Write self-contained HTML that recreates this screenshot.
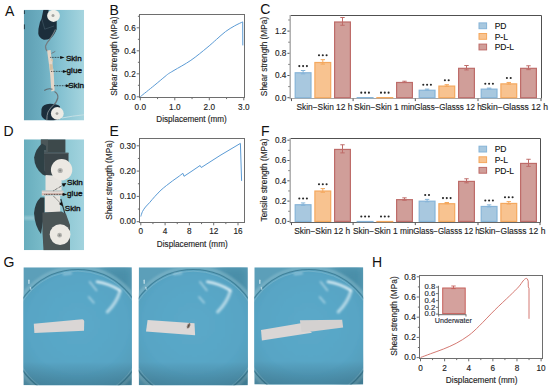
<!DOCTYPE html>
<html><head><meta charset="utf-8"><style>
html,body{margin:0;padding:0;background:#fff;}
svg{display:block;}
text{font-family:"Liberation Sans", sans-serif;}
</style></head><body>
<svg width="550" height="391" viewBox="0 0 550 391">
<rect width="550" height="391" fill="#fff"/>
<defs>
<linearGradient id="gA" x1="0" y1="0" x2="1" y2="0"><stop offset="0" stop-color="#5e9fb3"/><stop offset="0.3" stop-color="#6cadc0"/><stop offset="0.6" stop-color="#84c1d1"/><stop offset="1" stop-color="#a6d5df"/></linearGradient>
<linearGradient id="gD" x1="0" y1="0" x2="1" y2="0"><stop offset="0" stop-color="#68adbd"/><stop offset="0.4" stop-color="#7ebfcc"/><stop offset="1" stop-color="#a2d3de"/></linearGradient>
<linearGradient id="gGv" x1="0" y1="0" x2="0" y2="1"><stop offset="0" stop-color="#000" stop-opacity="0"/><stop offset="0.8" stop-color="#000" stop-opacity="0"/><stop offset="1" stop-color="#0a2a38" stop-opacity="0.22"/></linearGradient>
<radialGradient id="gDish" cx="0.5" cy="0.42" r="0.62"><stop offset="0" stop-color="#5ba9c9"/><stop offset="0.6" stop-color="#58a5c5"/><stop offset="1" stop-color="#5398b3"/></radialGradient>
<filter id="bl" x="-20%" y="-20%" width="140%" height="140%"><feGaussianBlur stdDeviation="0.45"/></filter>
<filter id="bl1" x="-20%" y="-20%" width="140%" height="140%"><feGaussianBlur stdDeviation="0.8"/></filter>
<filter id="bl2" x="-20%" y="-20%" width="140%" height="140%"><feGaussianBlur stdDeviation="1.5"/></filter>
<filter id="bl4" x="-30%" y="-30%" width="160%" height="160%"><feGaussianBlur stdDeviation="4"/></filter>
<clipPath id="cA"><rect x="23.8" y="9.7" width="60.3" height="110.8"/></clipPath>
<clipPath id="cD"><rect x="23.9" y="139.3" width="60.2" height="110.9"/></clipPath>
<clipPath id="cG1"><rect x="23.4" y="267.3" width="108.4" height="118"/></clipPath>
<clipPath id="cG2"><rect x="138.7" y="267.3" width="109.1" height="118"/></clipPath>
<clipPath id="cG3"><rect x="254.3" y="267.3" width="108.9" height="117.2"/></clipPath>
</defs>
<g clip-path="url(#cA)">
<rect x="23.8" y="9.7" width="60.3" height="110.8" fill="url(#gA)"/>
<g filter="url(#bl)">
<rect x="23.6" y="10.4" width="1.3" height="3.6" fill="#243a48"/><rect x="23.6" y="24.4" width="1.3" height="4.8" fill="#243a48"/>
<path d="M43.4,9.7 L48.6,9.7 L48.6,18 L56.7,20 L56.7,29.2 Q54,36 50.3,38.4 Q47,40 43.8,39.8 Q39,38 38.3,33.8 Q38,29 39.2,25.5 Q40,21 41.5,19 Z" fill="#1b2d3a"/>
<path d="M42,19.5 L44.7,29.2 L54,26" fill="none" stroke="#3e5260" stroke-width="0.8"/>
<ellipse cx="53.5" cy="15.8" rx="6.4" ry="6.1" fill="#efefe9"/><circle cx="53.0" cy="15.5" r="1.5" fill="#a4a4a0"/>
<path d="M55.5,29.5 Q53,35 50,39 Q46.5,43 45.5,46 Q45.3,49.5 47.8,51.5" fill="none" stroke="#737d82" stroke-width="1.2"/>
<path d="M51.5,53.4 L55.3,51.4" stroke="#6f7a80" stroke-width="1"/>
<path d="M47.1,50.4 L50.6,50 L51.5,58 L52.6,62 L52.4,66 L53.6,70 L54.6,90.6 L51.4,91.4 L50.2,75 L49.2,66 Z" fill="#e5d6c8"/><path d="M50.6,60 L52.8,58.5 L53,62 Z" fill="#d9c6aa"/>
<path d="M49.5,64 L52.6,64.5 L53.0,69.5 L50.0,70.2 Z" fill="#d3bfa2"/>
<path d="M52.5,89.3 Q48,87.8 44.3,90.5" fill="none" stroke="#5e6a70" stroke-width="1.1"/>
<path d="M54.5,91.5 Q58.5,94 57.8,98 Q56.5,103 52,107 Q48.5,110 47.5,115" fill="none" stroke="#6c767b" stroke-width="1.2"/>
<path d="M41.5,109 Q42.5,104 50,103.8 Q57.5,103.8 60,106.5 L60.4,118.5 Q57,120.6 50,120.6 Q42.5,120.4 41.3,115 Z" fill="#1b2d3a"/>
<path d="M54.5,104 Q50,108 48,112 Q46.8,115 46.8,120.5" fill="none" stroke="#8a9498" stroke-width="0.9"/>
<ellipse cx="57.3" cy="113.4" rx="6.4" ry="6.3" fill="#ecebe5"/><circle cx="57.0" cy="113.6" r="1.4" fill="#a0a09c"/>
<path d="M62,118 Q72,116 84,114.8" fill="none" stroke="#c4dfe4" stroke-width="1"/>
</g></g>
<g stroke="#111" stroke-width="0.8" stroke-dasharray="0.8,0.8" fill="none"><line x1="50.3" y1="57.4" x2="61.2" y2="57.4"/><line x1="51.2" y1="71.4" x2="63.8" y2="71.4"/><line x1="54.0" y1="85.7" x2="66.8" y2="85.7"/></g>
<g fill="#111"><path d="M60.2,55.9 L64.6,57.4 L60.2,58.9 Z"/><path d="M62.9,69.9 L67.3,71.4 L62.9,72.9 Z"/><path d="M65.8,84.2 L70.2,85.7 L65.8,87.2 Z"/></g>
<g font-size="8.1" fill="#141414" stroke="#141414" stroke-width="0.38"><text x="65.9" y="60.7">Skin</text><text x="66.6" y="73.4">glue</text><text x="68.2" y="87.9">Skin</text></g>
<g clip-path="url(#cD)">
<rect x="23.9" y="139.3" width="60.2" height="110.9" fill="url(#gD)"/>
<rect x="23.9" y="216" width="16" height="4" fill="#a4d0da" opacity="0.6" filter="url(#bl1)"/>
<g filter="url(#bl)">
<path d="M40.9,139.3 L65.4,139.3 L65.4,152.8 L40.9,152.8 Z" fill="#3e484c"/>
<path d="M40.9,139.3 L48,139.3 L48,152.8 L40.9,152.8 Z" fill="#4b5659"/>
<path d="M42,143.5 Q35.5,149 34.1,157.5 Q34.5,168 42.5,174.5 L46,176 L46,146 Z" fill="#2f3f45"/>
<path d="M44,150 L46.5,150 L46.5,172 L44.5,171 Z" fill="#4d5d62"/>
<path d="M44,152.8 L68.5,152.8 L68.5,172 L60,175.8 L45.5,175.8 Z" fill="#3a4448"/>
<line x1="44" y1="153.3" x2="68.5" y2="153.3" stroke="#5a6568" stroke-width="0.8"/>
<path d="M45.5,175 L58,176 L61.6,181 L61.6,190.4 L45.5,190.4 Z" fill="#e6e4df"/>
<circle cx="61.6" cy="169.8" r="10.7" fill="#ece9e3"/><circle cx="60.2" cy="170.5" r="2.6" fill="#b4b4b0"/><circle cx="60.2" cy="170.5" r="1.1" fill="#8a8a86"/>
<rect x="41.8" y="190.6" width="21.6" height="5.0" fill="#e0dad5"/>
<line x1="41.8" y1="194.0" x2="63.4" y2="194.0" stroke="#c8988a" stroke-width="0.9"/>
<line x1="41.8" y1="191.2" x2="63.4" y2="191.2" stroke="#b4b0ac" stroke-width="0.5"/>
<path d="M44.7,195.8 L60.2,195.8 L60.2,212.2 L44.7,212.2 Z" fill="#e6e4df"/>
<path d="M40.5,197.5 Q34.8,203 34,213 Q34.8,226 41,234 L44.5,212 L44.5,197.5 Z" fill="#2d3d43"/>
<path d="M60.8,199 L65.4,215.3" stroke="#2f3a40" stroke-width="1.2"/>
<path d="M42.4,212.5 L61.5,211.5 L66,214 L70,225 L70,250.5 L43.5,250.5 Q42,232 42.4,212.5 Z" fill="#4b5457"/>
<circle cx="60.1" cy="234.6" r="10.4" fill="#ece9e3"/><circle cx="59.6" cy="235.2" r="2.4" fill="#b2b2ae"/><circle cx="59.6" cy="235.2" r="1.0" fill="#888884"/>
</g></g>
<g stroke="#111" stroke-width="0.8" stroke-dasharray="0.8,0.8" fill="none"><line x1="53.5" y1="190.7" x2="63.5" y2="184.8"/><line x1="44.5" y1="194.4" x2="63.0" y2="194.4"/><line x1="53.7" y1="196.3" x2="60.6" y2="203.3"/></g>
<g fill="#111"><path d="M61.6,183.6 L66.3,182.9 L63.9,187.0 Z"/><path d="M62.6,192.8 L67.2,194.4 L62.6,196.0 Z"/><path d="M59.0,204.0 L61.7,201.8 L63.0,206.4 Z"/></g>
<g font-size="8.1" fill="#141414" stroke="#141414" stroke-width="0.38"><text x="67.0" y="185.0">Skin</text><text x="67.1" y="196.4">glue</text><text x="64.8" y="211.4">Skin</text></g>
<g clip-path="url(#cG1)">
<rect x="23.4" y="267.3" width="108.4" height="118" fill="#5c9fb9"/>
<path d="M99.28,267.3 L131.8,267.3 L131.8,302.7 Z" fill="#4a8ea8" filter="url(#bl4)"/>
<path d="M104.70000000000002,385.3 L131.8,385.3 L131.8,355.8 Z" fill="#3c7f98" filter="url(#bl4)"/>
<ellipse cx="77.8" cy="334.5" rx="66" ry="65" fill="url(#gDish)" filter="url(#bl1)"/>
<g filter="url(#bl1)" fill="none">
<ellipse cx="77.8" cy="334.5" rx="68" ry="67" stroke="#94c3d2" stroke-width="3.2" opacity="0.5"/>
</g>
<g filter="url(#bl)" fill="none">
<ellipse cx="77.8" cy="334.5" rx="66" ry="65" stroke="#3b7a92" stroke-width="1.1" opacity="0.85"/>
<ellipse cx="77.8" cy="334.5" rx="64.4" ry="63.4" stroke="#9ccbd8" stroke-width="0.8" opacity="0.45"/>
</g>
<g filter="url(#bl1)" fill="none" stroke="#eef8fb" stroke-linecap="round">
<path d="M97.0,281.8 Q109.4,283.8 120.0,290.3" stroke-width="2.6" opacity="0.85"/>
<path d="M120.0,291.3 Q116.4,303.3 107.4,311.8" stroke-width="3.2" opacity="0.6"/>
<path d="M89.6,281.8 L96.6,290.5" stroke-width="1.6" opacity="0.55"/>
<path d="M88.8,296.9 L93.8,302.8" stroke-width="1.6" opacity="0.55"/>
<path d="M63.4,274.3 L71.4,273.3" stroke-width="1.4" opacity="0.5"/>
</g>
<g filter="url(#bl)" fill="none" stroke="#e6f4f8" stroke-linecap="round">
<path d="M28.9,280.3 L28.9,283.3" stroke-width="1.4" opacity="0.7"/>
<path d="M30.4,287.3 L30.9,289.3" stroke-width="1.2" opacity="0.6"/>
</g>
<rect x="23.4" y="267.3" width="108.4" height="118" fill="url(#gGv)"/>
<path d="M33.8,323.8 L82.4,319.3 Q84.2,319.6 84.2,321.5 L84.0,330.8 L34.4,333.1 Z" fill="#dad6d5" filter="url(#bl)"/>
</g>
<g clip-path="url(#cG2)">
<rect x="138.7" y="267.3" width="109.1" height="118" fill="#5c9fb9"/>
<path d="M215.07,267.3 L247.79999999999998,267.3 L247.79999999999998,302.7 Z" fill="#4a8ea8" filter="url(#bl4)"/>
<path d="M220.52499999999998,385.3 L247.79999999999998,385.3 L247.79999999999998,355.8 Z" fill="#3c7f98" filter="url(#bl4)"/>
<ellipse cx="193.3" cy="334.5" rx="66" ry="65" fill="url(#gDish)" filter="url(#bl1)"/>
<g filter="url(#bl1)" fill="none">
<ellipse cx="193.3" cy="334.5" rx="68" ry="67" stroke="#94c3d2" stroke-width="3.2" opacity="0.5"/>
</g>
<g filter="url(#bl)" fill="none">
<ellipse cx="193.3" cy="334.5" rx="66" ry="65" stroke="#3b7a92" stroke-width="1.1" opacity="0.85"/>
<ellipse cx="193.3" cy="334.5" rx="64.4" ry="63.4" stroke="#9ccbd8" stroke-width="0.8" opacity="0.45"/>
</g>
<g filter="url(#bl1)" fill="none" stroke="#eef8fb" stroke-linecap="round">
<path d="M207.3,281.8 Q219.7,283.8 230.3,290.3" stroke-width="2.6" opacity="0.85"/>
<path d="M230.3,291.3 Q226.7,303.3 217.7,311.8" stroke-width="3.2" opacity="0.6"/>
<path d="M199.9,281.8 L206.9,290.5" stroke-width="1.6" opacity="0.55"/>
<path d="M199.1,296.9 L204.1,302.8" stroke-width="1.6" opacity="0.55"/>
<path d="M173.7,274.3 L181.7,273.3" stroke-width="1.4" opacity="0.5"/>
</g>
<g filter="url(#bl)" fill="none" stroke="#e6f4f8" stroke-linecap="round">
<path d="M144.2,280.3 L144.2,283.3" stroke-width="1.4" opacity="0.7"/>
<path d="M145.7,287.3 L146.2,289.3" stroke-width="1.2" opacity="0.6"/>
</g>
<rect x="138.7" y="267.3" width="109.1" height="118" fill="url(#gGv)"/>
<path d="M147.6,320 L194.5,323.3 L195.1,335.3 L146,331.5 Z" fill="#dcd8d7" filter="url(#bl)"/>
<ellipse cx="188.6" cy="325.8" rx="1.15" ry="2.7" fill="#54443a" transform="rotate(25 188.6 325.8)" filter="url(#bl)"/>
</g>
<g clip-path="url(#cG3)">
<rect x="254.3" y="267.3" width="108.9" height="117.2" fill="#5c9fb9"/>
<path d="M330.53000000000003,267.3 L363.20000000000005,267.3 L363.20000000000005,302.46000000000004 Z" fill="#4a8ea8" filter="url(#bl4)"/>
<path d="M335.975,384.5 L363.20000000000005,384.5 L363.20000000000005,355.20000000000005 Z" fill="#3c7f98" filter="url(#bl4)"/>
<ellipse cx="308.9" cy="334.5" rx="66" ry="65" fill="url(#gDish)" filter="url(#bl1)"/>
<g filter="url(#bl1)" fill="none">
<ellipse cx="308.9" cy="334.5" rx="68" ry="67" stroke="#94c3d2" stroke-width="3.2" opacity="0.5"/>
</g>
<g filter="url(#bl)" fill="none">
<ellipse cx="308.9" cy="334.5" rx="66" ry="65" stroke="#3b7a92" stroke-width="1.1" opacity="0.85"/>
<ellipse cx="308.9" cy="334.5" rx="64.4" ry="63.4" stroke="#9ccbd8" stroke-width="0.8" opacity="0.45"/>
</g>
<g filter="url(#bl1)" fill="none" stroke="#eef8fb" stroke-linecap="round">
<path d="M327.9,281.8 Q340.3,283.8 350.9,290.3" stroke-width="2.6" opacity="0.85"/>
<path d="M350.9,291.3 Q347.3,303.3 338.3,311.8" stroke-width="3.2" opacity="0.6"/>
<path d="M320.5,281.8 L327.5,290.5" stroke-width="1.6" opacity="0.55"/>
<path d="M319.7,296.9 L324.7,302.8" stroke-width="1.6" opacity="0.55"/>
<path d="M294.3,274.3 L302.3,273.3" stroke-width="1.4" opacity="0.5"/>
</g>
<g filter="url(#bl)" fill="none" stroke="#e6f4f8" stroke-linecap="round">
<path d="M259.8,280.3 L259.8,283.3" stroke-width="1.4" opacity="0.7"/>
<path d="M261.3,287.3 L261.8,289.3" stroke-width="1.2" opacity="0.6"/>
</g>
<rect x="254.3" y="267.3" width="108.9" height="117.2" fill="url(#gGv)"/>
<path d="M261,330.1 L300.8,323.2 L312,332.7 L261.9,340.5 Z" fill="#dad6d5" filter="url(#bl)"/>
<path d="M299.9,320.3 L342.2,319.8 L343.1,327.5 L312,331.5 L301.6,331.9 Z" fill="#d4d1d0" filter="url(#bl)"/>
</g>
<rect x="139.50" y="14.50" width="105.00" height="83.00" fill="none" stroke="#6e6e6e" stroke-width="1.0" />
<line x1="136.70" y1="96.80" x2="139.50" y2="96.80" stroke="#6e6e6e" stroke-width="1"/>
<text x="135.70" y="99.50" font-size="8.2" text-anchor="end" fill="#1e1e1e"  stroke="#1e1e1e" stroke-width="0.14">0.0</text>
<line x1="136.70" y1="73.80" x2="139.50" y2="73.80" stroke="#6e6e6e" stroke-width="1"/>
<text x="135.70" y="76.50" font-size="8.2" text-anchor="end" fill="#1e1e1e"  stroke="#1e1e1e" stroke-width="0.14">0.2</text>
<line x1="136.70" y1="50.80" x2="139.50" y2="50.80" stroke="#6e6e6e" stroke-width="1"/>
<text x="135.70" y="53.50" font-size="8.2" text-anchor="end" fill="#1e1e1e"  stroke="#1e1e1e" stroke-width="0.14">0.4</text>
<line x1="136.70" y1="27.80" x2="139.50" y2="27.80" stroke="#6e6e6e" stroke-width="1"/>
<text x="135.70" y="30.50" font-size="8.2" text-anchor="end" fill="#1e1e1e"  stroke="#1e1e1e" stroke-width="0.14">0.6</text>
<line x1="137.90" y1="85.30" x2="139.50" y2="85.30" stroke="#6e6e6e" stroke-width="1"/>
<line x1="137.90" y1="62.30" x2="139.50" y2="62.30" stroke="#6e6e6e" stroke-width="1"/>
<line x1="137.90" y1="39.30" x2="139.50" y2="39.30" stroke="#6e6e6e" stroke-width="1"/>
<line x1="137.90" y1="16.30" x2="139.50" y2="16.30" stroke="#6e6e6e" stroke-width="1"/>
<line x1="140.30" y1="97.50" x2="140.30" y2="100.30" stroke="#6e6e6e" stroke-width="1"/>
<text x="140.30" y="110.30" font-size="8.2" text-anchor="middle" fill="#1e1e1e"  stroke="#1e1e1e" stroke-width="0.14">0.0</text>
<line x1="174.80" y1="97.50" x2="174.80" y2="100.30" stroke="#6e6e6e" stroke-width="1"/>
<text x="174.80" y="110.30" font-size="8.2" text-anchor="middle" fill="#1e1e1e"  stroke="#1e1e1e" stroke-width="0.14">1.0</text>
<line x1="209.30" y1="97.50" x2="209.30" y2="100.30" stroke="#6e6e6e" stroke-width="1"/>
<text x="209.30" y="110.30" font-size="8.2" text-anchor="middle" fill="#1e1e1e"  stroke="#1e1e1e" stroke-width="0.14">2.0</text>
<line x1="243.80" y1="97.50" x2="243.80" y2="100.30" stroke="#6e6e6e" stroke-width="1"/>
<text x="243.80" y="110.30" font-size="8.2" text-anchor="middle" fill="#1e1e1e"  stroke="#1e1e1e" stroke-width="0.14">3.0</text>
<line x1="157.55" y1="97.50" x2="157.55" y2="99.10" stroke="#6e6e6e" stroke-width="1"/>
<line x1="192.05" y1="97.50" x2="192.05" y2="99.10" stroke="#6e6e6e" stroke-width="1"/>
<line x1="226.55" y1="97.50" x2="226.55" y2="99.10" stroke="#6e6e6e" stroke-width="1"/>
<text x="156.35" y="122.30" font-size="8.3" fill="#1e1e1e" stroke="#1e1e1e" stroke-width="0.14" textLength="70.35" lengthAdjust="spacingAndGlyphs">Displacement (mm)</text>
<text transform="translate(117.30,56.20) rotate(-90)" font-size="8.3" text-anchor="middle" fill="#1e1e1e" stroke="#1e1e1e" stroke-width="0.14">Shear strength (MPa)</text>
<path d="M140.30,96.70 C142.60,94.85 149.98,88.97 154.10,85.60 C158.22,82.23 162.58,78.50 165.00,76.50 C167.42,74.50 168.00,74.08 168.60,73.60" fill="none" stroke="#5b9bd5" stroke-width="1.0" stroke-linejoin="round"/>
<path d="M168.60,73.60 C169.50,73.07 170.28,72.62 174.00,70.40 C177.72,68.18 185.40,64.08 190.90,60.30 C196.40,56.52 202.73,51.18 207.00,47.70 C211.27,44.22 213.42,42.08 216.50,39.40 C219.58,36.72 222.47,33.87 225.50,31.60 C228.53,29.33 231.83,27.42 234.70,25.80 C237.57,24.18 241.37,22.55 242.70,21.90" fill="none" stroke="#5b9bd5" stroke-width="1.0" stroke-linejoin="round"/>
<polyline points="242.70,21.90 242.80,45.40" fill="none" stroke="#5b9bd5" stroke-width="1.0" stroke-linejoin="round" />
<rect x="139.50" y="138.50" width="105.00" height="84.00" fill="none" stroke="#6e6e6e" stroke-width="1.0" />
<line x1="136.70" y1="221.70" x2="139.50" y2="221.70" stroke="#6e6e6e" stroke-width="1"/>
<text x="135.70" y="224.40" font-size="8.2" text-anchor="end" fill="#1e1e1e"  stroke="#1e1e1e" stroke-width="0.14">0.00</text>
<line x1="136.70" y1="196.40" x2="139.50" y2="196.40" stroke="#6e6e6e" stroke-width="1"/>
<text x="135.70" y="199.10" font-size="8.2" text-anchor="end" fill="#1e1e1e"  stroke="#1e1e1e" stroke-width="0.14">0.10</text>
<line x1="136.70" y1="171.10" x2="139.50" y2="171.10" stroke="#6e6e6e" stroke-width="1"/>
<text x="135.70" y="173.80" font-size="8.2" text-anchor="end" fill="#1e1e1e"  stroke="#1e1e1e" stroke-width="0.14">0.20</text>
<line x1="136.70" y1="145.80" x2="139.50" y2="145.80" stroke="#6e6e6e" stroke-width="1"/>
<text x="135.70" y="148.50" font-size="8.2" text-anchor="end" fill="#1e1e1e"  stroke="#1e1e1e" stroke-width="0.14">0.30</text>
<line x1="137.90" y1="209.05" x2="139.50" y2="209.05" stroke="#6e6e6e" stroke-width="1"/>
<line x1="137.90" y1="183.75" x2="139.50" y2="183.75" stroke="#6e6e6e" stroke-width="1"/>
<line x1="137.90" y1="158.45" x2="139.50" y2="158.45" stroke="#6e6e6e" stroke-width="1"/>
<line x1="140.80" y1="222.50" x2="140.80" y2="225.30" stroke="#6e6e6e" stroke-width="1"/>
<text x="140.80" y="234.20" font-size="8.2" text-anchor="middle" fill="#1e1e1e"  stroke="#1e1e1e" stroke-width="0.14">0</text>
<line x1="165.10" y1="222.50" x2="165.10" y2="225.30" stroke="#6e6e6e" stroke-width="1"/>
<text x="165.10" y="234.20" font-size="8.2" text-anchor="middle" fill="#1e1e1e"  stroke="#1e1e1e" stroke-width="0.14">4</text>
<line x1="189.40" y1="222.50" x2="189.40" y2="225.30" stroke="#6e6e6e" stroke-width="1"/>
<text x="189.40" y="234.20" font-size="8.2" text-anchor="middle" fill="#1e1e1e"  stroke="#1e1e1e" stroke-width="0.14">8</text>
<line x1="213.70" y1="222.50" x2="213.70" y2="225.30" stroke="#6e6e6e" stroke-width="1"/>
<text x="213.70" y="234.20" font-size="8.2" text-anchor="middle" fill="#1e1e1e"  stroke="#1e1e1e" stroke-width="0.14">12</text>
<line x1="238.00" y1="222.50" x2="238.00" y2="225.30" stroke="#6e6e6e" stroke-width="1"/>
<text x="238.00" y="234.20" font-size="8.2" text-anchor="middle" fill="#1e1e1e"  stroke="#1e1e1e" stroke-width="0.14">16</text>
<line x1="152.95" y1="222.50" x2="152.95" y2="224.10" stroke="#6e6e6e" stroke-width="1"/>
<line x1="177.25" y1="222.50" x2="177.25" y2="224.10" stroke="#6e6e6e" stroke-width="1"/>
<line x1="201.55" y1="222.50" x2="201.55" y2="224.10" stroke="#6e6e6e" stroke-width="1"/>
<line x1="225.85" y1="222.50" x2="225.85" y2="224.10" stroke="#6e6e6e" stroke-width="1"/>
<text x="156.85" y="247.00" font-size="8.3" fill="#1e1e1e" stroke="#1e1e1e" stroke-width="0.14" textLength="70.85" lengthAdjust="spacingAndGlyphs">Displacement (mm)</text>
<text transform="translate(112.00,180.00) rotate(-90)" font-size="8.3" text-anchor="middle" fill="#1e1e1e" stroke="#1e1e1e" stroke-width="0.14">Shear strength (MPa)</text>
<path d="M140.80,216.50 C141.08,215.67 141.72,213.08 142.50,211.50 C143.28,209.92 144.33,208.47 145.50,207.00 C146.67,205.53 147.92,204.48 149.50,202.70 C151.08,200.92 153.08,198.40 155.00,196.30 C156.92,194.20 159.08,191.90 161.00,190.10 C162.92,188.30 164.58,187.03 166.50,185.50 C168.42,183.97 170.58,182.32 172.50,180.90 C174.42,179.48 176.27,178.27 178.00,177.00 C179.73,175.73 182.08,173.92 182.90,173.30" fill="none" stroke="#5b9bd5" stroke-width="1.0" stroke-linejoin="round"/>
<polyline points="182.90,173.30 184.00,176.30 192.00,171.00 200.10,165.50 201.30,167.50 220.00,155.50 240.40,143.40 241.60,180.90" fill="none" stroke="#5b9bd5" stroke-width="1.0" stroke-linejoin="round" />
<line x1="290.20" y1="15.50" x2="541.50" y2="15.50" stroke="#505050" stroke-width="1.0"/>
<line x1="541.50" y1="15.50" x2="541.50" y2="98.50" stroke="#505050" stroke-width="1.0"/>
<line x1="290.20" y1="15.00" x2="290.20" y2="99.20" stroke="#a8a8a8" stroke-width="1.4"/>
<line x1="290.20" y1="98.50" x2="541.50" y2="98.50" stroke="#a8a8a8" stroke-width="1.1"/>
<line x1="287.40" y1="97.70" x2="289.60" y2="97.70" stroke="#555" stroke-width="1"/>
<text x="286.30" y="100.60" font-size="8.2" text-anchor="end" fill="#1e1e1e"  stroke="#1e1e1e" stroke-width="0.14">0.0</text>
<line x1="287.40" y1="75.50" x2="289.60" y2="75.50" stroke="#555" stroke-width="1"/>
<text x="286.30" y="78.40" font-size="8.2" text-anchor="end" fill="#1e1e1e"  stroke="#1e1e1e" stroke-width="0.14">0.4</text>
<line x1="287.40" y1="53.30" x2="289.60" y2="53.30" stroke="#555" stroke-width="1"/>
<text x="286.30" y="56.20" font-size="8.2" text-anchor="end" fill="#1e1e1e"  stroke="#1e1e1e" stroke-width="0.14">0.8</text>
<line x1="287.40" y1="31.10" x2="289.60" y2="31.10" stroke="#555" stroke-width="1"/>
<text x="286.30" y="34.00" font-size="8.2" text-anchor="end" fill="#1e1e1e"  stroke="#1e1e1e" stroke-width="0.14">1.2</text>
<line x1="288.40" y1="86.60" x2="289.60" y2="86.60" stroke="#555" stroke-width="1"/>
<line x1="288.40" y1="64.40" x2="289.60" y2="64.40" stroke="#555" stroke-width="1"/>
<line x1="288.40" y1="42.20" x2="289.60" y2="42.20" stroke="#555" stroke-width="1"/>
<line x1="288.40" y1="20.00" x2="289.60" y2="20.00" stroke="#555" stroke-width="1"/>
<line x1="291.50" y1="98.50" x2="291.50" y2="101.10" stroke="#555" stroke-width="1"/>
<line x1="353.10" y1="98.50" x2="353.10" y2="101.10" stroke="#555" stroke-width="1"/>
<line x1="415.30" y1="98.50" x2="415.30" y2="101.10" stroke="#555" stroke-width="1"/>
<line x1="478.00" y1="98.50" x2="478.00" y2="101.10" stroke="#555" stroke-width="1"/>
<line x1="541.00" y1="98.50" x2="541.00" y2="101.10" stroke="#555" stroke-width="1"/>
<rect x="295.20" y="72.77" width="15.80" height="24.93" fill="#a8c8df" stroke="#86b4d8" stroke-width="1.2" />
<line x1="303.10" y1="73.84" x2="303.10" y2="70.50" stroke="#86b4d8" stroke-width="1.0"/>
<line x1="300.90" y1="70.50" x2="305.30" y2="70.50" stroke="#86b4d8" stroke-width="1.0"/>
<line x1="300.90" y1="73.84" x2="305.30" y2="73.84" stroke="#86b4d8" stroke-width="1.0"/>
<circle cx="299.30" cy="66.10" r="1.05" fill="#262626"/>
<circle cx="303.10" cy="66.10" r="1.05" fill="#262626"/>
<circle cx="306.90" cy="66.10" r="1.05" fill="#262626"/>
<rect x="314.90" y="62.50" width="15.80" height="35.20" fill="#f8c390" stroke="#f4a85e" stroke-width="1.2" />
<line x1="322.80" y1="64.12" x2="322.80" y2="59.68" stroke="#f4a85e" stroke-width="1.0"/>
<line x1="320.60" y1="59.68" x2="325.00" y2="59.68" stroke="#f4a85e" stroke-width="1.0"/>
<line x1="320.60" y1="64.12" x2="325.00" y2="64.12" stroke="#f4a85e" stroke-width="1.0"/>
<circle cx="319.00" cy="55.28" r="1.05" fill="#262626"/>
<circle cx="322.80" cy="55.28" r="1.05" fill="#262626"/>
<circle cx="326.60" cy="55.28" r="1.05" fill="#262626"/>
<rect x="334.60" y="21.99" width="15.80" height="75.71" fill="#d09e99" stroke="#be6c69" stroke-width="1.2" />
<line x1="342.50" y1="25.27" x2="342.50" y2="17.50" stroke="#be6c69" stroke-width="1.0"/>
<line x1="340.30" y1="17.50" x2="344.70" y2="17.50" stroke="#be6c69" stroke-width="1.0"/>
<line x1="340.30" y1="25.27" x2="344.70" y2="25.27" stroke="#be6c69" stroke-width="1.0"/>
<rect x="357.20" y="97.63" width="15.80" height="0.20" fill="#a8c8df" stroke="#86b4d8" stroke-width="1.2" />
<circle cx="361.30" cy="92.63" r="1.05" fill="#262626"/>
<circle cx="365.10" cy="92.63" r="1.05" fill="#262626"/>
<circle cx="368.90" cy="92.63" r="1.05" fill="#262626"/>
<rect x="376.90" y="97.63" width="15.80" height="0.20" fill="#f8c390" stroke="#f4a85e" stroke-width="1.2" />
<circle cx="381.00" cy="92.63" r="1.05" fill="#262626"/>
<circle cx="384.80" cy="92.63" r="1.05" fill="#262626"/>
<circle cx="388.60" cy="92.63" r="1.05" fill="#262626"/>
<rect x="396.60" y="82.48" width="15.80" height="15.22" fill="#d09e99" stroke="#be6c69" stroke-width="1.2" />
<line x1="404.50" y1="82.55" x2="404.50" y2="81.22" stroke="#be6c69" stroke-width="1.0"/>
<line x1="402.30" y1="81.22" x2="406.70" y2="81.22" stroke="#be6c69" stroke-width="1.0"/>
<line x1="402.30" y1="82.55" x2="406.70" y2="82.55" stroke="#be6c69" stroke-width="1.0"/>
<rect x="419.20" y="90.25" width="15.80" height="7.45" fill="#a8c8df" stroke="#86b4d8" stroke-width="1.2" />
<line x1="427.10" y1="90.21" x2="427.10" y2="89.10" stroke="#86b4d8" stroke-width="1.0"/>
<line x1="424.90" y1="89.10" x2="429.30" y2="89.10" stroke="#86b4d8" stroke-width="1.0"/>
<line x1="424.90" y1="90.21" x2="429.30" y2="90.21" stroke="#86b4d8" stroke-width="1.0"/>
<circle cx="423.30" cy="84.70" r="1.05" fill="#262626"/>
<circle cx="427.10" cy="84.70" r="1.05" fill="#262626"/>
<circle cx="430.90" cy="84.70" r="1.05" fill="#262626"/>
<rect x="438.90" y="86.09" width="15.80" height="11.61" fill="#f8c390" stroke="#f4a85e" stroke-width="1.2" />
<line x1="446.80" y1="86.32" x2="446.80" y2="84.66" stroke="#f4a85e" stroke-width="1.0"/>
<line x1="444.60" y1="84.66" x2="449.00" y2="84.66" stroke="#f4a85e" stroke-width="1.0"/>
<line x1="444.60" y1="86.32" x2="449.00" y2="86.32" stroke="#f4a85e" stroke-width="1.0"/>
<circle cx="444.90" cy="80.26" r="1.05" fill="#262626"/>
<circle cx="448.70" cy="80.26" r="1.05" fill="#262626"/>
<rect x="458.60" y="68.33" width="15.80" height="29.37" fill="#d09e99" stroke="#be6c69" stroke-width="1.2" />
<line x1="466.50" y1="69.95" x2="466.50" y2="65.51" stroke="#be6c69" stroke-width="1.0"/>
<line x1="464.30" y1="65.51" x2="468.70" y2="65.51" stroke="#be6c69" stroke-width="1.0"/>
<line x1="464.30" y1="69.95" x2="468.70" y2="69.95" stroke="#be6c69" stroke-width="1.0"/>
<rect x="481.20" y="89.14" width="15.80" height="8.56" fill="#a8c8df" stroke="#86b4d8" stroke-width="1.2" />
<line x1="489.10" y1="88.99" x2="489.10" y2="88.10" stroke="#86b4d8" stroke-width="1.0"/>
<line x1="486.90" y1="88.10" x2="491.30" y2="88.10" stroke="#86b4d8" stroke-width="1.0"/>
<line x1="486.90" y1="88.99" x2="491.30" y2="88.99" stroke="#86b4d8" stroke-width="1.0"/>
<circle cx="485.30" cy="83.70" r="1.05" fill="#262626"/>
<circle cx="489.10" cy="83.70" r="1.05" fill="#262626"/>
<circle cx="492.90" cy="83.70" r="1.05" fill="#262626"/>
<rect x="500.90" y="83.87" width="15.80" height="13.83" fill="#f8c390" stroke="#f4a85e" stroke-width="1.2" />
<line x1="508.80" y1="84.10" x2="508.80" y2="82.44" stroke="#f4a85e" stroke-width="1.0"/>
<line x1="506.60" y1="82.44" x2="511.00" y2="82.44" stroke="#f4a85e" stroke-width="1.0"/>
<line x1="506.60" y1="84.10" x2="511.00" y2="84.10" stroke="#f4a85e" stroke-width="1.0"/>
<circle cx="506.90" cy="78.04" r="1.05" fill="#262626"/>
<circle cx="510.70" cy="78.04" r="1.05" fill="#262626"/>
<rect x="520.60" y="68.33" width="15.80" height="29.37" fill="#d09e99" stroke="#be6c69" stroke-width="1.2" />
<line x1="528.50" y1="69.67" x2="528.50" y2="65.79" stroke="#be6c69" stroke-width="1.0"/>
<line x1="526.30" y1="65.79" x2="530.70" y2="65.79" stroke="#be6c69" stroke-width="1.0"/>
<line x1="526.30" y1="69.67" x2="530.70" y2="69.67" stroke="#be6c69" stroke-width="1.0"/>
<text x="296.55" y="109.70" font-size="8.3" fill="#1e1e1e" stroke="#1e1e1e" stroke-width="0.14" textLength="55.75" lengthAdjust="spacingAndGlyphs">Skin−Skin 12 h</text>
<text x="354.05" y="109.70" font-size="8.3" fill="#1e1e1e" stroke="#1e1e1e" stroke-width="0.14" textLength="60.45" lengthAdjust="spacingAndGlyphs">Skin−Skin 1 min</text>
<text x="414.15" y="109.70" font-size="8.3" fill="#1e1e1e" stroke="#1e1e1e" stroke-width="0.14" textLength="67.55" lengthAdjust="spacingAndGlyphs">Glass−Glasss 12 h</text>
<text x="481.05" y="109.70" font-size="8.3" fill="#1e1e1e" stroke="#1e1e1e" stroke-width="0.14" textLength="66.85" lengthAdjust="spacingAndGlyphs">Skin−Glasss 12 h</text>
<text transform="translate(266.60,56.50) rotate(-90)" font-size="8.3" text-anchor="middle" fill="#1e1e1e" stroke="#1e1e1e" stroke-width="0.14">Shear strength (MPa)</text>
<rect x="479.00" y="22.90" width="7.60" height="5.80" fill="#a8c8df" stroke="#86b4d8" stroke-width="1.0" />
<text x="494.70" y="29.10" font-size="8.5" text-anchor="start" fill="#111"  stroke="#111" stroke-width="0.14">PD</text>
<rect x="479.00" y="33.50" width="7.60" height="5.80" fill="#f8c390" stroke="#f4a85e" stroke-width="1.0" />
<text x="494.70" y="39.70" font-size="8.5" text-anchor="start" fill="#111"  stroke="#111" stroke-width="0.14">P-L</text>
<rect x="479.00" y="44.10" width="7.60" height="5.80" fill="#d09e99" stroke="#be6c69" stroke-width="1.0" />
<text x="494.70" y="50.30" font-size="8.5" text-anchor="start" fill="#111"  stroke="#111" stroke-width="0.14">PD-L</text>
<line x1="290.20" y1="138.50" x2="540.50" y2="138.50" stroke="#505050" stroke-width="1.0"/>
<line x1="540.50" y1="138.50" x2="540.50" y2="222.50" stroke="#505050" stroke-width="1.0"/>
<line x1="290.20" y1="138.00" x2="290.20" y2="223.20" stroke="#a8a8a8" stroke-width="1.4"/>
<line x1="290.20" y1="222.50" x2="540.50" y2="222.50" stroke="#666" stroke-width="1.1"/>
<line x1="287.40" y1="221.40" x2="289.60" y2="221.40" stroke="#555" stroke-width="1"/>
<text x="286.30" y="224.30" font-size="8.2" text-anchor="end" fill="#1e1e1e"  stroke="#1e1e1e" stroke-width="0.14">0.0</text>
<line x1="287.40" y1="201.10" x2="289.60" y2="201.10" stroke="#555" stroke-width="1"/>
<text x="286.30" y="204.00" font-size="8.2" text-anchor="end" fill="#1e1e1e"  stroke="#1e1e1e" stroke-width="0.14">0.2</text>
<line x1="287.40" y1="180.80" x2="289.60" y2="180.80" stroke="#555" stroke-width="1"/>
<text x="286.30" y="183.70" font-size="8.2" text-anchor="end" fill="#1e1e1e"  stroke="#1e1e1e" stroke-width="0.14">0.4</text>
<line x1="287.40" y1="160.50" x2="289.60" y2="160.50" stroke="#555" stroke-width="1"/>
<text x="286.30" y="163.40" font-size="8.2" text-anchor="end" fill="#1e1e1e"  stroke="#1e1e1e" stroke-width="0.14">0.6</text>
<line x1="287.40" y1="140.20" x2="289.60" y2="140.20" stroke="#555" stroke-width="1"/>
<text x="286.30" y="143.10" font-size="8.2" text-anchor="end" fill="#1e1e1e"  stroke="#1e1e1e" stroke-width="0.14">0.8</text>
<line x1="288.40" y1="211.25" x2="289.60" y2="211.25" stroke="#555" stroke-width="1"/>
<line x1="288.40" y1="190.95" x2="289.60" y2="190.95" stroke="#555" stroke-width="1"/>
<line x1="288.40" y1="170.65" x2="289.60" y2="170.65" stroke="#555" stroke-width="1"/>
<line x1="288.40" y1="150.35" x2="289.60" y2="150.35" stroke="#555" stroke-width="1"/>
<line x1="291.50" y1="222.50" x2="291.50" y2="225.10" stroke="#555" stroke-width="1"/>
<line x1="353.10" y1="222.50" x2="353.10" y2="225.10" stroke="#555" stroke-width="1"/>
<line x1="415.30" y1="222.50" x2="415.30" y2="225.10" stroke="#555" stroke-width="1"/>
<line x1="478.00" y1="222.50" x2="478.00" y2="225.10" stroke="#555" stroke-width="1"/>
<line x1="540.00" y1="222.50" x2="540.00" y2="225.10" stroke="#555" stroke-width="1"/>
<rect x="295.20" y="204.75" width="15.80" height="16.65" fill="#a8c8df" stroke="#86b4d8" stroke-width="1.2" />
<line x1="303.10" y1="205.36" x2="303.10" y2="202.93" stroke="#86b4d8" stroke-width="1.0"/>
<line x1="300.90" y1="202.93" x2="305.30" y2="202.93" stroke="#86b4d8" stroke-width="1.0"/>
<line x1="300.90" y1="205.36" x2="305.30" y2="205.36" stroke="#86b4d8" stroke-width="1.0"/>
<circle cx="299.30" cy="198.53" r="1.05" fill="#262626"/>
<circle cx="303.10" cy="198.53" r="1.05" fill="#262626"/>
<circle cx="306.90" cy="198.53" r="1.05" fill="#262626"/>
<rect x="314.90" y="191.04" width="15.80" height="30.36" fill="#f8c390" stroke="#f4a85e" stroke-width="1.2" />
<line x1="322.80" y1="192.27" x2="322.80" y2="188.62" stroke="#f4a85e" stroke-width="1.0"/>
<line x1="320.60" y1="188.62" x2="325.00" y2="188.62" stroke="#f4a85e" stroke-width="1.0"/>
<line x1="320.60" y1="192.27" x2="325.00" y2="192.27" stroke="#f4a85e" stroke-width="1.0"/>
<circle cx="319.00" cy="184.22" r="1.05" fill="#262626"/>
<circle cx="322.80" cy="184.22" r="1.05" fill="#262626"/>
<circle cx="326.60" cy="184.22" r="1.05" fill="#262626"/>
<rect x="334.60" y="149.43" width="15.80" height="71.97" fill="#d09e99" stroke="#be6c69" stroke-width="1.2" />
<line x1="342.50" y1="152.89" x2="342.50" y2="144.77" stroke="#be6c69" stroke-width="1.0"/>
<line x1="340.30" y1="144.77" x2="344.70" y2="144.77" stroke="#be6c69" stroke-width="1.0"/>
<line x1="340.30" y1="152.89" x2="344.70" y2="152.89" stroke="#be6c69" stroke-width="1.0"/>
<rect x="357.20" y="221.49" width="15.80" height="0.20" fill="#a8c8df" stroke="#86b4d8" stroke-width="1.2" />
<circle cx="361.30" cy="216.49" r="1.05" fill="#262626"/>
<circle cx="365.10" cy="216.49" r="1.05" fill="#262626"/>
<circle cx="368.90" cy="216.49" r="1.05" fill="#262626"/>
<rect x="376.90" y="221.49" width="15.80" height="0.20" fill="#f8c390" stroke="#f4a85e" stroke-width="1.2" />
<circle cx="381.00" cy="216.49" r="1.05" fill="#262626"/>
<circle cx="384.80" cy="216.49" r="1.05" fill="#262626"/>
<circle cx="388.60" cy="216.49" r="1.05" fill="#262626"/>
<rect x="396.60" y="199.67" width="15.80" height="21.73" fill="#d09e99" stroke="#be6c69" stroke-width="1.2" />
<line x1="404.50" y1="200.29" x2="404.50" y2="197.85" stroke="#be6c69" stroke-width="1.0"/>
<line x1="402.30" y1="197.85" x2="406.70" y2="197.85" stroke="#be6c69" stroke-width="1.0"/>
<line x1="402.30" y1="200.29" x2="406.70" y2="200.29" stroke="#be6c69" stroke-width="1.0"/>
<rect x="419.20" y="201.19" width="15.80" height="20.21" fill="#a8c8df" stroke="#86b4d8" stroke-width="1.2" />
<line x1="427.10" y1="201.81" x2="427.10" y2="199.37" stroke="#86b4d8" stroke-width="1.0"/>
<line x1="424.90" y1="199.37" x2="429.30" y2="199.37" stroke="#86b4d8" stroke-width="1.0"/>
<line x1="424.90" y1="201.81" x2="429.30" y2="201.81" stroke="#86b4d8" stroke-width="1.0"/>
<circle cx="425.20" cy="194.97" r="1.05" fill="#262626"/>
<circle cx="429.00" cy="194.97" r="1.05" fill="#262626"/>
<rect x="438.90" y="203.73" width="15.80" height="17.67" fill="#f8c390" stroke="#f4a85e" stroke-width="1.2" />
<line x1="446.80" y1="203.74" x2="446.80" y2="202.52" stroke="#f4a85e" stroke-width="1.0"/>
<line x1="444.60" y1="202.52" x2="449.00" y2="202.52" stroke="#f4a85e" stroke-width="1.0"/>
<line x1="444.60" y1="203.74" x2="449.00" y2="203.74" stroke="#f4a85e" stroke-width="1.0"/>
<circle cx="443.00" cy="198.12" r="1.05" fill="#262626"/>
<circle cx="446.80" cy="198.12" r="1.05" fill="#262626"/>
<circle cx="450.60" cy="198.12" r="1.05" fill="#262626"/>
<rect x="458.60" y="181.40" width="15.80" height="40.00" fill="#d09e99" stroke="#be6c69" stroke-width="1.2" />
<line x1="466.50" y1="182.83" x2="466.50" y2="178.77" stroke="#be6c69" stroke-width="1.0"/>
<line x1="464.30" y1="178.77" x2="468.70" y2="178.77" stroke="#be6c69" stroke-width="1.0"/>
<line x1="464.30" y1="182.83" x2="468.70" y2="182.83" stroke="#be6c69" stroke-width="1.0"/>
<rect x="481.20" y="206.47" width="15.80" height="14.93" fill="#a8c8df" stroke="#86b4d8" stroke-width="1.2" />
<line x1="489.10" y1="206.89" x2="489.10" y2="204.86" stroke="#86b4d8" stroke-width="1.0"/>
<line x1="486.90" y1="204.86" x2="491.30" y2="204.86" stroke="#86b4d8" stroke-width="1.0"/>
<line x1="486.90" y1="206.89" x2="491.30" y2="206.89" stroke="#86b4d8" stroke-width="1.0"/>
<circle cx="485.30" cy="200.46" r="1.05" fill="#262626"/>
<circle cx="489.10" cy="200.46" r="1.05" fill="#262626"/>
<circle cx="492.90" cy="200.46" r="1.05" fill="#262626"/>
<rect x="500.90" y="203.43" width="15.80" height="17.97" fill="#f8c390" stroke="#f4a85e" stroke-width="1.2" />
<line x1="508.80" y1="204.04" x2="508.80" y2="201.61" stroke="#f4a85e" stroke-width="1.0"/>
<line x1="506.60" y1="201.61" x2="511.00" y2="201.61" stroke="#f4a85e" stroke-width="1.0"/>
<line x1="506.60" y1="204.04" x2="511.00" y2="204.04" stroke="#f4a85e" stroke-width="1.0"/>
<circle cx="505.00" cy="197.21" r="1.05" fill="#262626"/>
<circle cx="508.80" cy="197.21" r="1.05" fill="#262626"/>
<circle cx="512.60" cy="197.21" r="1.05" fill="#262626"/>
<rect x="520.60" y="163.43" width="15.80" height="57.97" fill="#d09e99" stroke="#be6c69" stroke-width="1.2" />
<line x1="528.50" y1="166.39" x2="528.50" y2="159.28" stroke="#be6c69" stroke-width="1.0"/>
<line x1="526.30" y1="159.28" x2="530.70" y2="159.28" stroke="#be6c69" stroke-width="1.0"/>
<line x1="526.30" y1="166.39" x2="530.70" y2="166.39" stroke="#be6c69" stroke-width="1.0"/>
<text x="294.25" y="234.20" font-size="8.3" fill="#1e1e1e" stroke="#1e1e1e" stroke-width="0.14" textLength="55.85" lengthAdjust="spacingAndGlyphs">Skin−Skin 12 h</text>
<text x="352.95" y="234.20" font-size="8.3" fill="#1e1e1e" stroke="#1e1e1e" stroke-width="0.14" textLength="60.55" lengthAdjust="spacingAndGlyphs">Skin−Skin 1 min</text>
<text x="413.15" y="234.20" font-size="8.3" fill="#1e1e1e" stroke="#1e1e1e" stroke-width="0.14" textLength="66.55" lengthAdjust="spacingAndGlyphs">Glass−Glasss 12 h</text>
<text x="479.05" y="234.20" font-size="8.3" fill="#1e1e1e" stroke="#1e1e1e" stroke-width="0.14" textLength="66.35" lengthAdjust="spacingAndGlyphs">Skin−Glasss 12 h</text>
<text transform="translate(266.60,180.00) rotate(-90)" font-size="8.3" text-anchor="middle" fill="#1e1e1e" stroke="#1e1e1e" stroke-width="0.14">Tensile strength (MPa)</text>
<rect x="479.00" y="146.20" width="7.60" height="5.80" fill="#a8c8df" stroke="#86b4d8" stroke-width="1.0" />
<text x="494.70" y="152.40" font-size="8.5" text-anchor="start" fill="#111"  stroke="#111" stroke-width="0.14">PD</text>
<rect x="479.00" y="156.80" width="7.60" height="5.80" fill="#f8c390" stroke="#f4a85e" stroke-width="1.0" />
<text x="494.70" y="163.00" font-size="8.5" text-anchor="start" fill="#111"  stroke="#111" stroke-width="0.14">P-L</text>
<rect x="479.00" y="167.40" width="7.60" height="5.80" fill="#d09e99" stroke="#be6c69" stroke-width="1.0" />
<text x="494.70" y="173.60" font-size="8.5" text-anchor="start" fill="#111"  stroke="#111" stroke-width="0.14">PD-L</text>
<rect x="419.50" y="275.50" width="123.00" height="83.00" fill="none" stroke="#6e6e6e" stroke-width="1.0" />
<line x1="416.70" y1="357.60" x2="419.50" y2="357.60" stroke="#6e6e6e" stroke-width="1"/>
<text x="415.70" y="360.30" font-size="8.2" text-anchor="end" fill="#1e1e1e"  stroke="#1e1e1e" stroke-width="0.14">0.0</text>
<line x1="416.70" y1="337.40" x2="419.50" y2="337.40" stroke="#6e6e6e" stroke-width="1"/>
<text x="415.70" y="340.10" font-size="8.2" text-anchor="end" fill="#1e1e1e"  stroke="#1e1e1e" stroke-width="0.14">0.2</text>
<line x1="416.70" y1="317.20" x2="419.50" y2="317.20" stroke="#6e6e6e" stroke-width="1"/>
<text x="415.70" y="319.90" font-size="8.2" text-anchor="end" fill="#1e1e1e"  stroke="#1e1e1e" stroke-width="0.14">0.4</text>
<line x1="416.70" y1="297.00" x2="419.50" y2="297.00" stroke="#6e6e6e" stroke-width="1"/>
<text x="415.70" y="299.70" font-size="8.2" text-anchor="end" fill="#1e1e1e"  stroke="#1e1e1e" stroke-width="0.14">0.6</text>
<line x1="416.70" y1="276.80" x2="419.50" y2="276.80" stroke="#6e6e6e" stroke-width="1"/>
<text x="415.70" y="279.50" font-size="8.2" text-anchor="end" fill="#1e1e1e"  stroke="#1e1e1e" stroke-width="0.14">0.8</text>
<line x1="417.90" y1="347.50" x2="419.50" y2="347.50" stroke="#6e6e6e" stroke-width="1"/>
<line x1="417.90" y1="327.30" x2="419.50" y2="327.30" stroke="#6e6e6e" stroke-width="1"/>
<line x1="417.90" y1="307.10" x2="419.50" y2="307.10" stroke="#6e6e6e" stroke-width="1"/>
<line x1="417.90" y1="286.90" x2="419.50" y2="286.90" stroke="#6e6e6e" stroke-width="1"/>
<line x1="420.50" y1="358.50" x2="420.50" y2="361.30" stroke="#6e6e6e" stroke-width="1"/>
<text x="420.50" y="370.50" font-size="8.2" text-anchor="middle" fill="#1e1e1e"  stroke="#1e1e1e" stroke-width="0.14">0</text>
<line x1="444.62" y1="358.50" x2="444.62" y2="361.30" stroke="#6e6e6e" stroke-width="1"/>
<text x="444.62" y="370.50" font-size="8.2" text-anchor="middle" fill="#1e1e1e"  stroke="#1e1e1e" stroke-width="0.14">2</text>
<line x1="468.74" y1="358.50" x2="468.74" y2="361.30" stroke="#6e6e6e" stroke-width="1"/>
<text x="468.74" y="370.50" font-size="8.2" text-anchor="middle" fill="#1e1e1e"  stroke="#1e1e1e" stroke-width="0.14">4</text>
<line x1="492.86" y1="358.50" x2="492.86" y2="361.30" stroke="#6e6e6e" stroke-width="1"/>
<text x="492.86" y="370.50" font-size="8.2" text-anchor="middle" fill="#1e1e1e"  stroke="#1e1e1e" stroke-width="0.14">6</text>
<line x1="516.98" y1="358.50" x2="516.98" y2="361.30" stroke="#6e6e6e" stroke-width="1"/>
<text x="516.98" y="370.50" font-size="8.2" text-anchor="middle" fill="#1e1e1e"  stroke="#1e1e1e" stroke-width="0.14">8</text>
<line x1="541.10" y1="358.50" x2="541.10" y2="361.30" stroke="#6e6e6e" stroke-width="1"/>
<text x="541.10" y="370.50" font-size="8.2" text-anchor="middle" fill="#1e1e1e"  stroke="#1e1e1e" stroke-width="0.14">10</text>
<line x1="432.56" y1="358.50" x2="432.56" y2="360.10" stroke="#6e6e6e" stroke-width="1"/>
<line x1="456.68" y1="358.50" x2="456.68" y2="360.10" stroke="#6e6e6e" stroke-width="1"/>
<line x1="480.80" y1="358.50" x2="480.80" y2="360.10" stroke="#6e6e6e" stroke-width="1"/>
<line x1="504.92" y1="358.50" x2="504.92" y2="360.10" stroke="#6e6e6e" stroke-width="1"/>
<line x1="529.04" y1="358.50" x2="529.04" y2="360.10" stroke="#6e6e6e" stroke-width="1"/>
<text x="445.85" y="383.20" font-size="8.3" fill="#1e1e1e" stroke="#1e1e1e" stroke-width="0.14" textLength="71.65" lengthAdjust="spacingAndGlyphs">Displacement (mm)</text>
<text transform="translate(396.50,316.00) rotate(-90)" font-size="8.3" text-anchor="middle" fill="#1e1e1e" stroke="#1e1e1e" stroke-width="0.14">Shear strength (MPa)</text>
<path d="M420.50,357.50 C422.20,356.87 426.87,355.12 430.70,353.70 C434.53,352.28 439.25,350.73 443.50,349.00 C447.75,347.27 451.97,345.58 456.20,343.30 C460.43,341.02 465.03,338.22 468.90,335.30 C472.77,332.38 475.07,330.03 479.40,325.80 C483.73,321.57 489.85,314.90 494.90,309.90 C499.95,304.90 505.75,299.63 509.70,295.80 C513.65,291.97 516.37,289.38 518.60,286.90 C520.83,284.42 521.93,282.28 523.10,280.90 C524.27,279.52 524.92,278.95 525.60,278.60 C526.28,278.25 526.77,278.37 527.20,278.80 C527.63,279.23 528.03,280.80 528.20,281.20" fill="none" stroke="#cf6a62" stroke-width="0.9" stroke-linejoin="round"/>
<polyline points="528.20,281.20 528.30,286.90 529.00,288.30 529.00,318.80" fill="none" stroke="#cf6a62" stroke-width="0.9" stroke-linejoin="round" />
<line x1="438.40" y1="285.80" x2="438.40" y2="315.20" stroke="#5a5a5a" stroke-width="0.9"/>
<line x1="438.40" y1="314.70" x2="466.30" y2="314.70" stroke="#5a5a5a" stroke-width="0.9"/>
<line x1="436.00" y1="314.10" x2="438.40" y2="314.10" stroke="#555" stroke-width="0.8"/>
<text x="424.55" y="316.30" font-size="6.5" fill="#2a2e38" stroke="#2a2e38" stroke-width="0.14" textLength="10.70" lengthAdjust="spacingAndGlyphs">0.0</text>
<line x1="436.00" y1="307.40" x2="438.40" y2="307.40" stroke="#555" stroke-width="0.8"/>
<text x="424.55" y="309.60" font-size="6.5" fill="#2a2e38" stroke="#2a2e38" stroke-width="0.14" textLength="10.70" lengthAdjust="spacingAndGlyphs">0.2</text>
<line x1="436.00" y1="300.60" x2="438.40" y2="300.60" stroke="#555" stroke-width="0.8"/>
<text x="424.55" y="302.80" font-size="6.5" fill="#2a2e38" stroke="#2a2e38" stroke-width="0.14" textLength="10.70" lengthAdjust="spacingAndGlyphs">0.4</text>
<line x1="436.00" y1="293.60" x2="438.40" y2="293.60" stroke="#555" stroke-width="0.8"/>
<text x="424.55" y="295.80" font-size="6.5" fill="#2a2e38" stroke="#2a2e38" stroke-width="0.14" textLength="10.70" lengthAdjust="spacingAndGlyphs">0.6</text>
<line x1="436.00" y1="287.10" x2="438.40" y2="287.10" stroke="#555" stroke-width="0.8"/>
<text x="424.55" y="289.30" font-size="6.5" fill="#2a2e38" stroke="#2a2e38" stroke-width="0.14" textLength="10.70" lengthAdjust="spacingAndGlyphs">0.8</text>
<line x1="438.70" y1="314.70" x2="438.70" y2="316.60" stroke="#555" stroke-width="0.8"/>
<line x1="466.00" y1="314.70" x2="466.00" y2="316.60" stroke="#555" stroke-width="0.8"/>
<rect x="442.70" y="288.00" width="22.50" height="25.60" fill="#d4a19d" stroke="#c6605b" stroke-width="1.0" />
<line x1="453.50" y1="288.40" x2="453.50" y2="286.00" stroke="#c6605b" stroke-width="0.9"/>
<line x1="451.30" y1="286.00" x2="455.70" y2="286.00" stroke="#c6605b" stroke-width="0.9"/>
<line x1="451.30" y1="288.60" x2="455.70" y2="288.60" stroke="#c6605b" stroke-width="0.9"/>
<text x="434.75" y="323.40" font-size="7.0" fill="#2a2e38" stroke="#2a2e38" stroke-width="0.14" textLength="37.05" lengthAdjust="spacingAndGlyphs">Underwater</text>
<text x="5.00" y="15.60" font-size="14" text-anchor="start" fill="#111" stroke="none">A</text>
<text x="109.60" y="14.60" font-size="14" text-anchor="start" fill="#111" stroke="none">B</text>
<text x="260.20" y="13.80" font-size="14" text-anchor="start" fill="#111" stroke="none">C</text>
<text x="3.60" y="135.70" font-size="14" text-anchor="start" fill="#111" stroke="none">D</text>
<text x="109.60" y="136.00" font-size="14" text-anchor="start" fill="#111" stroke="none">E</text>
<text x="261.00" y="135.90" font-size="14" text-anchor="start" fill="#111" stroke="none">F</text>
<text x="3.40" y="266.60" font-size="14" text-anchor="start" fill="#111" stroke="none">G</text>
<text x="372.00" y="266.60" font-size="14" text-anchor="start" fill="#111" stroke="none">H</text>
</svg>
</body></html>
